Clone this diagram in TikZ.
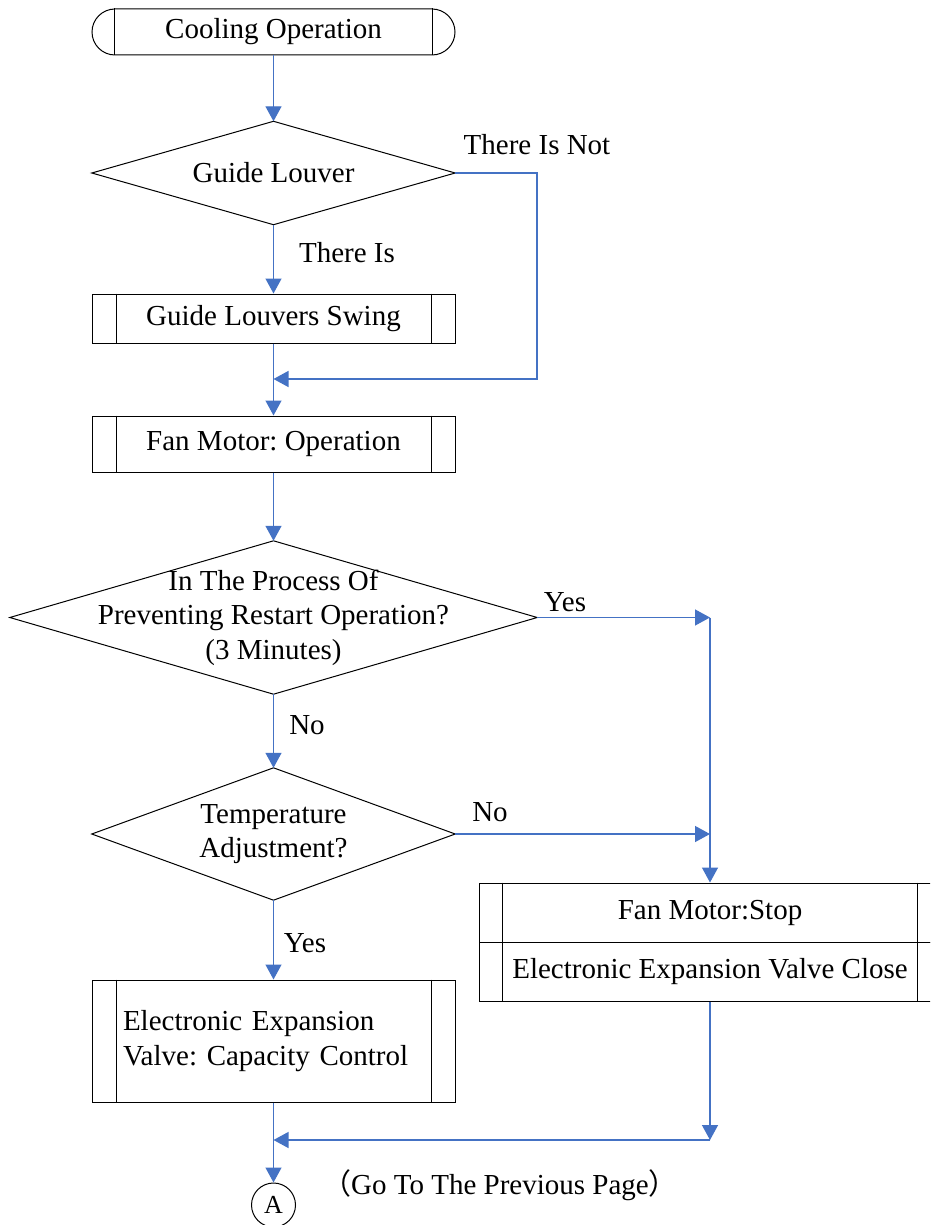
\documentclass[tikz,border=0pt]{standalone}
\usepackage{fontspec}
\setmainfont{Liberation Serif}
\newfontfamily\cjkfont{Noto Sans CJK SC}
\usetikzlibrary{arrows.meta,calc}
\definecolor{linkblue}{RGB}{68,114,196}
\frenchspacing
\begin{document}
\begin{tikzpicture}[x=1pt,y=-1pt,
  every node/.style={font=\fontsize{29}{34.5}\selectfont\frenchspacing, inner sep=0pt},
  outline/.style={draw=black, line width=1pt},
  procbox/.style={outline, rectangle, minimum width=363pt},
  conn/.style={draw=linkblue, line width=1.3pt},
  arr/.style={conn, -{Triangle[length=15pt,width=16pt]}}]
\useasboundingbox (0,0) rectangle (930,1225);
\clip (0,0) rectangle (930,1225);
\fill[white] (0,0) rectangle (930,1225);

% start terminator
\node[outline, rounded corners=23pt, minimum width=363pt, minimum height=46pt] (start) at (273.5,32) {Cooling Operation};
\draw[outline] ([xshift=23pt]start.north west) -- ([xshift=23pt]start.south west)
  ([xshift=-23pt]start.north east) -- ([xshift=-23pt]start.south east);

% decisions
\node[minimum width=363pt, minimum height=103pt] (d1) at (273.5,173) {Guide Louver};
\node[minimum width=527pt, minimum height=153pt, align=center] (d2) at (273.5,617.5)
  {In The Process Of\\Preventing Restart Operation?\\(3 Minutes)};
\node[minimum width=363pt, minimum height=132pt, align=center] (d3) at (273.5,834)
  {Temperature\\Adjustment?};
\foreach \d in {d1,d2,d3}
  \draw[outline] (\d.north) -- (\d.east) -- (\d.south) -- (\d.west) -- cycle;

% processes
\node[procbox, minimum height=49pt] (swing) at (273.5,318.5) {Guide Louvers Swing};
\node[procbox, minimum height=56pt] (fan) at (273.5,444) {Fan Motor: Operation};
\node[procbox, minimum height=122pt, text width=301pt, inner xsep=31pt, align=left] (eev) at (273.5,1041)
  {Electronic Expansion\\Valve: Capacity Control};
\foreach \n in {swing,fan,eev}
  \draw[outline] ([xshift=24.5pt]\n.north west) -- ([xshift=24.5pt]\n.south west)
    ([xshift=-24.5pt]\n.north east) -- ([xshift=-24.5pt]\n.south east);

\node[outline, minimum width=462pt, minimum height=59pt] (stop1) at (710,912.5) {Fan Motor:Stop};
\node[outline, minimum width=462pt, minimum height=59pt] (stop2) at (710,971.5) {Electronic Expansion Valve Close};
\draw[outline] ([xshift=24pt]stop1.north west) -- ([xshift=24pt]stop2.south west)
  ([xshift=-24pt]stop1.north east) -- ([xshift=-24pt]stop2.south east);

% connector A
\node[outline, circle, minimum size=44pt, font=\fontsize{26}{30}\selectfont] (A) at (273.5,1205) {A};

% junction points
\coordinate (m1) at (537,379);
\coordinate (m2) at (710,1140);

% connectors
\draw[arr] (start.south) -- (d1.north);
\draw[arr] (d1.south) -- (swing.north);
\draw[arr] (swing.south) -- (fan.north);
\draw[arr] (d1.east) -- (d1.east -| m1) -- (m1) -- (m1 -| swing.south);
\draw[arr] (fan.south) -- (d2.north);
\draw[arr] (d2.east) -- (d2.east -| stop1.north);
\draw[arr] (d2.east -| stop1.north) -- (stop1.north);
\draw[arr] (d2.south) -- (d3.north);
\draw[arr] (d3.east) -- (d3.east -| stop1.north);
\draw[arr] (d3.south) -- (eev.north);
\draw[arr] (stop2.south) -- (stop2.south |- m2);
\draw[arr] (stop2.south |- m2) -- (m2 -| eev.south);
\draw[arr] (eev.south) -- (A.north);

% labels
\node (lnot) at (537,145) {There Is Not};
\node (lis) at (347,253) {There Is};
\node (lyes1) at (565,602) {Yes};
\node (lno1) at (307,725) {No};
\node (lno2) at (490,812) {No};
\node (lyes2) at (305,943) {Yes};
\node (goto) at (500,1185) {{\cjkfont （}Go To The Previous Page{\cjkfont ）}};
\end{tikzpicture}
\end{document}
